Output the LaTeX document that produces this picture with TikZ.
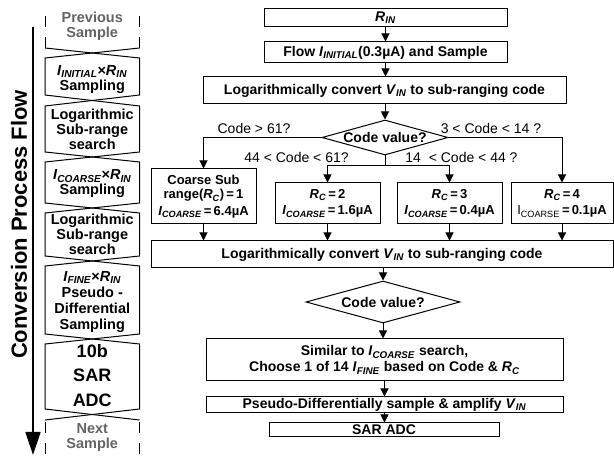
\documentclass[tikz,border=0pt]{standalone}
\usepackage{fontspec}
\setmainfont{Liberation Sans}
\usetikzlibrary{arrows.meta,shapes.geometric}
\definecolor{fadegray}{RGB}{100,100,100}
\newcommand{\sbs}[2]{\textit{#1}\textsubscript{\textit{#2}}}
\begin{document}
\begin{tikzpicture}[x=1pt,y=-1pt,line width=1pt,
  box/.style={draw,rectangle,inner sep=0pt,align=center,font=\fontsize{14}{16}\selectfont\bfseries},
  rbox/.style={box,minimum width=105pt,font=\fontsize{13}{14.5}\selectfont\bfseries},
  dia/.style={draw,diamond,inner sep=0pt},
  dtext/.style={font=\fontsize{14}{16}\selectfont\bfseries,inner sep=0pt},
  lbl/.style={font=\fontsize{14}{16}\selectfont,inner sep=0pt},
  cell/.style={align=center,inner sep=0pt,font=\fontsize{14.5}{15}\selectfont\bfseries},
  arr/.style={-{Triangle[length=8pt,width=8pt]}},
  dsh/.style={dash pattern=on 11pt off 10pt},
]
\useasboundingbox (0,0) rectangle (614,457);

% ---------- left column ----------
\node[font=\fontsize{22}{24}\selectfont\bfseries,rotate=90,inner sep=0pt] (title) at (19,224.5) {Conversion Process Flow};
\coordinate (atop) at (33,27);
\coordinate (abot) at (33,455);
\draw[line width=1.5pt,-{Triangle[length=23pt,width=15pt]}] (atop) -- (abot);

\draw (45,48) -- (92.25,53) -- (139.5,48);
\draw[dsh] (45,48) -- (45,13);
\draw[dsh] (139.5,48) -- (139.5,13);
\foreach \t/\b/\mt/\mb in {58/95/53/100.5, 106/152/100.5/157, 162/203/157/208, 213/256/208/261, 266/334/261/339, 344/409/339/414.5}
  \draw (45,\t) -- (45,\b) -- (92.25,\mb) -- (139.5,\b) -- (139.5,\t) -- (92.25,\mt) -- cycle;
\draw (45,420) -- (92.25,414.5) -- (139.5,420);
\draw[dsh,dash phase=19pt] (45,420) -- (45,457);
\draw[dsh,dash phase=19pt] (139.5,420) -- (139.5,457);

\node[cell,text=fadegray] (c0) at (92.25,26.5) {Previous\\Sample};
\node[cell] (c1) at (92.25,79.5) {\sbs{I}{INITIAL}×\sbs{R}{IN}\\Sampling};
\node[cell] (c2) at (92.25,129) {Logarithmic\\Sub-range\\search};
\node[cell] (c3) at (92.25,184) {\sbs{I}{COARSE}×\sbs{R}{IN}\\Sampling};
\node[cell] (c4) at (92.25,234) {Logarithmic\\Sub-range\\search};
\node[cell,font=\fontsize{14.5}{16}\selectfont\bfseries] (c5) at (92.25,302) {\sbs{I}{FINE}×\sbs{R}{IN}\\Pseudo -\\Differential\\Sampling};
\node[cell,font=\fontsize{18}{24.5}\selectfont\bfseries] (c6) at (92.25,375.5) {10b\\SAR\\ADC};
\node[cell,text=fadegray] (c7) at (92.25,438) {Next\\Sample};

% ---------- flowchart ----------
\node[box,minimum width=243pt,minimum height=18pt] (rin) at (385.5,18) {\sbs{R}{IN}};
\node[box,minimum width=243pt,minimum height=21pt] (flow) at (385.5,52.5) {Flow \sbs{I}{INITIAL}(0.3µA) and Sample};
\node[box,minimum width=363pt,minimum height=27pt] (log1) at (384.5,90.5) {Logarithmically convert \sbs{V}{IN} to sub-ranging code};
\node[dia,minimum width=126pt,minimum height=35pt,label={[dtext]center:Code value?}] (d1) at (385,137.5) {};

\draw[arr] (rin.south) -- (flow.north);
\draw[arr] (flow.south) -- (flow.south |- log1.north);
\draw[arr] (log1.south -| d1.north) -- (d1.north);

\node[rbox,minimum height=55pt] (b1) at (203.5,196.5) {Coarse Sub\\range(\sbs{R}{C})\,=\,1\\[2pt]\sbs{I}{COARSE}\,=\,6.4µA};
\node[rbox,minimum height=41pt] (b2) at (327.5,203.5) {\sbs{R}{C}\,=\,2\\[2pt]\sbs{I}{COARSE}\,=\,1.6µA};
\node[rbox,minimum height=41pt] (b3) at (449.5,203.5) {\sbs{R}{C}\,=\,3\\[2pt]\sbs{I}{COARSE}\,=\,0.4µA};
\node[rbox,minimum width=102pt,minimum height=41pt] (b4) at (562,203.5) {\sbs{R}{C}\,=\,4\\[2pt]{\mdseries I\textsubscript{COARSE}}\,=\,0.1µA};

\coordinate (sp) at (385,166);
\draw[arr] (d1.west) -| (b1.north);
\draw[arr] (d1.east) -| (b4.north);
\draw (d1.south) -- (sp);
\draw[arr] (sp) -| (b2.north);
\draw[arr] (sp) -| (b3.north);

\node[lbl] (l1) at (254,128.5) {Code > 61?};
\node[lbl] (l2) at (491,128.5) {3 < Code < 14 ?};
\node[lbl] (l3) at (296.5,157) {44 < Code < 61?};
\node[lbl] (l4) at (461.5,157) {14\ \ < Code < 44 ?};

\node[box,minimum width=462pt,minimum height=27pt] (log2) at (382,254.5) {Logarithmically convert \sbs{V}{IN} to sub-ranging code};
\foreach \bb in {b1,b2,b3,b4}
  \draw[arr] (\bb.south) -- (\bb.south |- log2.north);

\node[dia,minimum width=154pt,minimum height=42pt,label={[dtext]center:Code value?}] (d2) at (383,302) {};
\draw[arr] (d2.north |- log2.south) -- (d2.north);

\node[box,minimum width=357pt,minimum height=42pt] (sim) at (384.5,360) {Similar to \sbs{I}{COARSE} search,\\Choose 1 of 14 \sbs{I}{FINE} based on Code \& \sbs{R}{C}};
\draw[arr] (d2.south) -- (d2.south |- sim.north);

\node[box,minimum width=357pt,minimum height=16pt] (pse) at (384.5,405) {Pseudo-Differentially sample \& amplify \sbs{V}{IN}};
\draw[arr] (sim.south) -- (pse.north);

\node[box,minimum width=230pt,minimum height=14pt] (sar) at (384,430) {SAR ADC};
\draw[arr] (pse.south) -- (pse.south |- sar.north);
\end{tikzpicture}
\end{document}
